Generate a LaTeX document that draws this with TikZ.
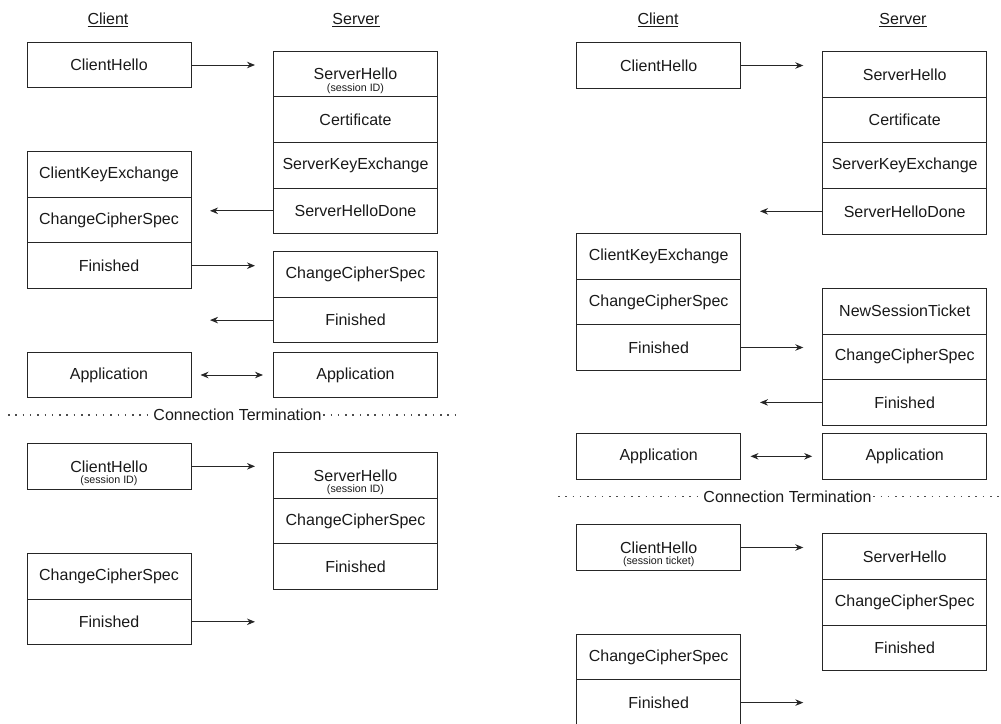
\documentclass[tikz,border=0pt]{standalone}
\usepackage{fontspec}
\setmainfont{Liberation Sans}
\usetikzlibrary{arrows.meta}
\begin{document}
\begin{tikzpicture}[x=1pt,y=-1pt,
  every node/.style={font=\fontsize{16}{19}\selectfont, text=black!90},
  cell/.style={draw=black!85, line width=1pt, minimum width=164pt, minimum height=45.6pt, inner sep=0pt},
  note/.style={font=\fontsize{10.7}{12}\selectfont, inner sep=0pt},
  hdr/.style={inner sep=0pt},
  msg/.style={draw=black!85, line width=1pt, -{Stealth[length=8pt,width=6.5pt]}},
  both/.style={draw=black!85, line width=1pt, {Stealth[length=8pt,width=6.5pt]}-{Stealth[length=8pt,width=6.5pt]}},
  sep/.style={draw=black!70, line width=1.5pt, dash pattern=on 1.5pt off 5.8pt},
  sepText/.style={inner sep=1.5pt}
]
\useasboundingbox (0,0) rectangle (1001,723);
\clip (0,0) rectangle (1001,723);

% ---------- Full handshake with session ID, then resumption ----------
\node[hdr] (lhc) at (108,20) {\underline{Client}};
\node[hdr] (lhs) at (356,20) {\underline{Server}};

\node[cell] (lc1) at (109,65) {ClientHello};

\node[cell] (ls1a) at (355.5,74) {ServerHello};
\node[note] (ls1an) at (355.5,88.5) {(session ID)};
\node[cell] (ls1b) at (355.5,119.6) {Certificate};
\node[cell] (ls1c) at (355.5,165.2) {ServerKeyExchange};
\node[cell] (ls1d) at (355.5,210.8) {ServerHelloDone};

\node[cell] (lc2a) at (109,174.5) {ClientKeyExchange};
\node[cell] (lc2b) at (109,220.1) {ChangeCipherSpec};
\node[cell] (lc2c) at (109,265.7) {Finished};

\node[cell] (ls2a) at (355.5,274.5) {ChangeCipherSpec};
\node[cell] (ls2b) at (355.5,320.1) {Finished};

\node[cell] (lca) at (109,375) {Application};
\node[cell] (lsa) at (355.5,375) {Application};

% free ends of the message arrows (only x matters)
\coordinate (lsend) at (255,0);
\coordinate (lrecv) at (210,0);

\draw[msg] (lc1.east) -- (lc1.east -| lsend);
\draw[msg] (ls1d.west) -- (ls1d.west -| lrecv);
\draw[msg] (lc2c.east) -- (lc2c.east -| lsend);
\draw[msg] (ls2b.west) -- (ls2b.west -| lrecv);
\draw[both, shorten <=9pt, shorten >=10pt] (lca.east) -- (lsa.west);

\node[sepText] (lterm) at (237.5,415) {Connection Termination};
\coordinate (lsepL) at (8,415);
\coordinate (lsepR) at (459,415);
\draw[sep] (lsepL) -- (lterm.west);
\draw[sep] (lterm.east) -- (lsepR);

\node[cell] (lc3) at (109,466.3) {ClientHello};
\node[note] (lc3n) at (109,480.8) {(session ID)};

\node[cell] (ls3a) at (355.5,475.5) {ServerHello};
\node[note] (ls3an) at (355.5,490) {(session ID)};
\node[cell] (ls3b) at (355.5,521.1) {ChangeCipherSpec};
\node[cell] (ls3c) at (355.5,566.7) {Finished};

\node[cell] (lc4a) at (109,576.2) {ChangeCipherSpec};
\node[cell] (lc4b) at (109,621.8) {Finished};

\draw[msg] (lc3.east) -- (lc3.east -| lsend);
\draw[msg] (lc4b.east) -- (lc4b.east -| lsend);

% ---------- Full handshake with session ticket, then resumption ----------
\node[hdr] (rhc) at (658,20) {\underline{Client}};
\node[hdr] (rhs) at (903,20) {\underline{Server}};

\node[cell] (rc1) at (658.7,65.5) {ClientHello};

\node[cell] (rs1a) at (904.7,74.5) {ServerHello};
\node[cell] (rs1b) at (904.7,120.1) {Certificate};
\node[cell] (rs1c) at (904.7,165.7) {ServerKeyExchange};
\node[cell] (rs1d) at (904.7,211.3) {ServerHelloDone};

\node[cell] (rc2a) at (658.7,256.3) {ClientKeyExchange};
\node[cell] (rc2b) at (658.7,301.9) {ChangeCipherSpec};
\node[cell] (rc2c) at (658.7,347.5) {Finished};

\node[cell] (rs2a) at (904.7,311.2) {NewSessionTicket};
\node[cell] (rs2b) at (904.7,356.8) {ChangeCipherSpec};
\node[cell] (rs2c) at (904.7,402.4) {Finished};

\node[cell] (rca) at (658.7,456.3) {Application};
\node[cell] (rsa) at (904.7,456.3) {Application};

\coordinate (rsend) at (803.3,0);
\coordinate (rrecv) at (760,0);

\draw[msg] (rc1.east) -- (rc1.east -| rsend);
\draw[msg] (rs1d.west) -- (rs1d.west -| rrecv);
\draw[msg] (rc2c.east) -- (rc2c.east -| rsend);
\draw[msg] (rs2c.west) -- (rs2c.west -| rrecv);
\draw[both, shorten <=9.3pt, shorten >=10pt] (rca.east) -- (rsa.west);

\node[sepText] (rterm) at (787.5,496.7) {Connection Termination};
\coordinate (rsepL) at (558,496.7);
\coordinate (rsepR) at (1000,496.7);
\draw[sep] (rsepL) -- (rterm.west);
\draw[sep] (rterm.east) -- (rsepR);

\node[cell] (rc3) at (658.7,547.5) {ClientHello};
\node[note] (rc3n) at (658.7,561.5) {(session ticket)};

\node[cell] (rs3a) at (904.7,556.7) {ServerHello};
\node[cell] (rs3b) at (904.7,602.3) {ChangeCipherSpec};
\node[cell] (rs3c) at (904.7,647.9) {Finished};

\node[cell] (rc4a) at (658.7,657) {ChangeCipherSpec};
\node[cell] (rc4b) at (658.7,702.6) {Finished};

\draw[msg] (rc3.east) -- (rc3.east -| rsend);
\draw[msg] (rc4b.east) -- (rc4b.east -| rsend);
\end{tikzpicture}
\end{document}
